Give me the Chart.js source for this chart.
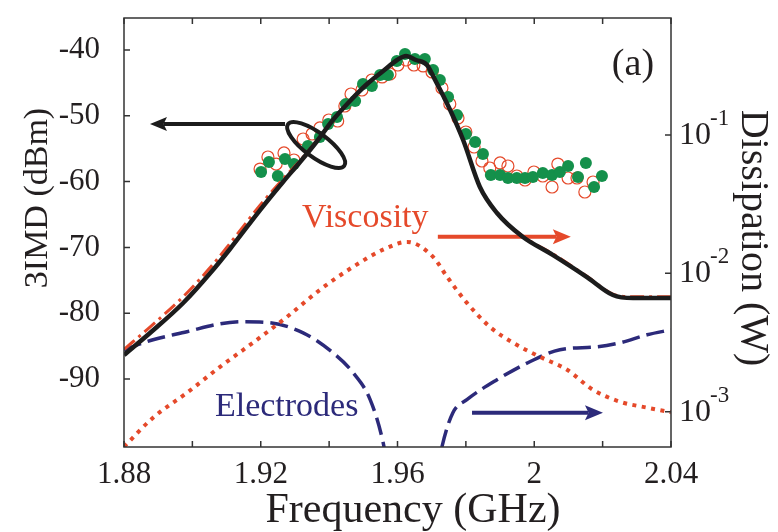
<!DOCTYPE html>
<html>
<head>
<meta charset="utf-8">
<script src="https://cdn.jsdelivr.net/npm/chart.js@4.4.0/dist/chart.umd.min.js"></script>
<style>
  html, body { margin: 0; padding: 0; background: #fff; }
  #wrap { width: 778px; height: 532px; }
</style>
</head>
<body>
<div id="wrap"><canvas id="chart" width="778" height="532"></canvas></div>
<script>
// axis ticks
const freqTicks = [1.88, 1.90, 1.92, 1.94, 1.96, 1.98, 2.00, 2.02, 2.04];
const freqTickLabels = ['1.88', '', '1.92', '', '1.96', '', '2', '', '2.04'];
const imdTicks = [-90, -80, -70, -60, -50, -40];
const dissTicks = [1e-3, 1e-2, 1e-1];
const dissTickExp = ['-3', '-2', '-1'];

// simulated 3IMD (black solid) and second simulation (red dash-dot)
const freqSim = [1.88, 1.8876, 1.8973, 1.906, 1.911, 1.9198, 1.9265, 1.9315, 1.9365, 1.9411, 1.9461,
  1.9511, 1.9558, 1.9599, 1.9625, 1.9654, 1.9686, 1.971, 1.9754, 1.9792, 1.9841, 1.9891, 1.9967,
  2.0055, 2.0154, 2.023, 2.0289, 2.04];
const imdSim = [-86.35, -83.01, -78.45, -73.43, -70.24, -64.32, -60.06, -57.02, -53.83, -50.64, -47.75,
  -45.17, -43.19, -41.52, -40.91, -41.52, -42.28, -44.56, -49.12, -53.68, -60.82, -64.77, -68.42,
  -71.16, -74.5, -77.23, -77.69, -77.69];
const imdSimAlt = [-85.5, -82.1, -77.5, -72.6, -69.4, -63.6, -59.6, -56.8, -53.7, -50.6, -47.7,
  -45.1, -43.2, -41.5, -40.9, -41.5, -42.3, -44.6, -49.1, -53.7, -60.8, -64.7, -68.3,
  -71.0, -74.4, -77.1, -77.5, -77.5];

// measured 3IMD (green filled, red open)
const freqMeasA = [1.9201, 1.9224, 1.925, 1.9271, 1.9297, 1.9338, 1.9373, 1.9397, 1.9423, 1.9449,
  1.9476, 1.9499, 1.9525, 1.9549, 1.9572, 1.9598, 1.9622, 1.9651, 1.968, 1.9704, 1.9724, 1.9748,
  1.9774, 1.98, 1.9827, 1.985, 1.9873, 1.99, 1.9923, 1.9949, 1.9973, 1.9996, 2.0025, 2.0052,
  2.0075, 2.0099, 2.0128, 2.0151, 2.0175, 2.0198];
const imdMeasA = [-58.54, -57.02, -59.15, -56.57, -57.33, -54.59, -53.22, -51.25, -50.18, -48.21,
  -47.75, -45.17, -45.47, -43.8, -43.8, -41.67, -40.61, -41.37, -41.37, -43.04, -44.56, -47.14,
  -49.88, -52.77, -53.98, -55.81, -59.0, -59.0, -59.45, -59.45, -59.45, -59.3, -58.69, -59.0,
  -58.54, -57.63, -59.3, -57.17, -60.82, -59.15];
const freqMeasB = [1.9198, 1.9221, 1.9245, 1.9268, 1.9297, 1.9324, 1.935, 1.9373, 1.9399, 1.9425,
  1.9446, 1.9464, 1.9496, 1.9525, 1.9555, 1.9578, 1.9601, 1.9625, 1.9648, 1.9675, 1.9701, 1.973,
  1.9753, 1.9777, 1.98, 1.9824, 1.9847, 1.987, 1.99, 1.9923, 1.9949, 1.9973, 1.9999, 2.0025,
  2.0052, 2.0069, 2.0099, 2.0125, 2.0148, 2.0172];
const imdMeasB = [-58.09, -56.26, -57.33, -55.65, -56.72, -53.53, -52.77, -51.85, -50.64, -50.79,
  -48.51, -46.69, -46.08, -44.56, -44.1, -43.65, -42.28, -41.52, -42.28, -42.43, -43.34, -45.78,
  -48.21, -50.33, -52.46, -54.74, -56.87, -57.93, -57.17, -57.63, -59.15, -59.76, -58.54, -59.15,
  -60.82, -57.33, -59.45, -59.45, -61.58, -60.06];

// dissipation (W): viscosity (red dotted) and electrodes (navy dashed)
const freqVisc = [1.88, 1.8885, 1.8984, 1.9081, 1.9177, 1.9277, 1.9373, 1.947, 1.9563, 1.9628,
  1.9704, 1.9745, 1.9803, 1.987, 1.9938, 2.0017, 2.0096, 2.0172, 2.0251, 2.033, 2.04];
const dissVisc = [5.58e-4, 9.06e-4, 1.37e-3, 2.11e-3, 3.15e-3, 4.85e-3, 7.6e-3, 1.114e-2, 1.503e-2,
  1.687e-2, 1.315e-2, 9.44e-3, 6.12e-3, 4.11e-3, 3.15e-3, 2.49e-3, 2.01e-3, 1.44e-3, 1.18e-3,
  1.07e-3, 9.9e-4];
const freqElec = [1.88, 1.8885, 1.8984, 1.9081, 1.9148, 1.9227, 1.9324, 1.9411, 1.947, 1.952,
  1.9558, 1.9584, 1.9645, 1.9704, 1.973, 1.9762, 1.9803, 1.9891, 1.9987, 2.0075, 2.0183, 2.0251,
  2.033, 2.04];
const dissElec = [2.805e-3, 3.311e-3, 3.784e-3, 4.315e-3, 4.467e-3, 4.395e-3, 3.715e-3, 2.667e-3,
  1.914e-3, 1.222e-3, 5.97e-4, 2.51e-4, 6.3e-5, 2.51e-4, 5.58e-4, 9.84e-4, 1.222e-3, 1.702e-3,
  2.296e-3, 2.805e-3, 2.944e-3, 3.148e-3, 3.597e-3, 3.908e-3];

const RED = '#e5492a';
const NAVY = '#2c2a7a';
const GREEN = '#14904b';
const INK = '#231f20';
const SERIF = '"Liberation Serif", "Times New Roman", serif';

Chart.defaults.font.family = SERIF;

function pts(xs, ys) {
  return xs.map((x, i) => ({ x: x, y: ys[i] }));
}

function arrow(ctx, x0, y0, x1, y1, color, lw, hl, hw) {
  const dir = Math.sign(x1 - x0);
  ctx.strokeStyle = color;
  ctx.fillStyle = color;
  ctx.lineWidth = lw;
  ctx.beginPath();
  ctx.moveTo(x0, y0);
  ctx.lineTo(x1 - dir * hl * 0.8, y1);
  ctx.stroke();
  ctx.beginPath();
  ctx.moveTo(x1, y1);
  ctx.lineTo(x1 - dir * hl, y1 - hw);
  ctx.lineTo(x1 - dir * hl * 0.8, y1);
  ctx.lineTo(x1 - dir * hl, y1 + hw);
  ctx.closePath();
  ctx.fill();
}

// no automatic label padding: the plot box is fixed
function fixV(w) {
  return s => { s.width = w; s.paddingTop = 0; s.paddingBottom = 0; };
}

// arrows + labels under the curves
const notes = {
  id: 'notes',
  beforeDatasetsDraw(chart) {
    const { ctx, scales } = chart;
    const x = scales.x, yl = scales.y, yr = scales.y2;
    ctx.save();
    arrow(ctx, x.getPixelForValue(1.9271), yl.getPixelForValue(-51.25),
      x.getPixelForValue(1.8876), yl.getPixelForValue(-51.25), '#1c1c1c', 4, 17, 7);
    arrow(ctx, x.getPixelForValue(1.9718), yr.getPixelForValue(0.0184),
      x.getPixelForValue(2.0107), yr.getPixelForValue(0.0184), RED, 4, 18, 7.5);
    arrow(ctx, x.getPixelForValue(1.9818), yr.getPixelForValue(9.84e-4),
      x.getPixelForValue(2.0201), yr.getPixelForValue(9.84e-4), NAVY, 4, 18, 7.5);

    ctx.textBaseline = 'alphabetic';
    ctx.textAlign = 'left';
    ctx.font = '34px ' + SERIF;
    ctx.fillStyle = RED;
    ctx.fillText('Viscosity', x.getPixelForValue(1.9321), yr.getPixelForValue(0.0217));
    ctx.fillStyle = NAVY;
    ctx.fillText('Electrodes', x.getPixelForValue(1.9066), yr.getPixelForValue(9.35e-4));
    ctx.fillStyle = INK;
    ctx.font = '38px ' + SERIF;
    ctx.fillText('(a)', x.getPixelForValue(2.0227), yl.getPixelForValue(-43.8));
    ctx.restore();
  },
  afterDatasetsDraw(chart) {
    const { ctx, scales } = chart;
    ctx.save();
    ctx.strokeStyle = '#1c1c1c';
    ctx.lineWidth = 4;
    ctx.beginPath();
    ctx.ellipse(scales.x.getPixelForValue(1.9362), scales.y.getPixelForValue(-54.44),
      35, 12, 36.6 * Math.PI / 180, 0, Math.PI * 2);
    ctx.stroke();
    ctx.restore();
  }
};

// frame, inward ticks, log labels, axis titles
const frame = {
  id: 'frame',
  afterDraw(chart) {
    const { ctx, chartArea: a, scales } = chart;
    const x = scales.x, yl = scales.y, yr = scales.y2;
    ctx.save();
    ctx.strokeStyle = '#333';
    ctx.lineWidth = 1.5;
    ctx.strokeRect(a.left, a.top, a.right - a.left, a.bottom - a.top);
    ctx.beginPath();
    x.ticks.forEach(t => {
      const px = x.getPixelForValue(t.value);
      ctx.moveTo(px, a.bottom); ctx.lineTo(px, a.bottom - 6);
      ctx.moveTo(px, a.top); ctx.lineTo(px, a.top + 6);
    });
    yl.ticks.forEach(t => {
      const py = yl.getPixelForValue(t.value);
      ctx.moveTo(a.left, py); ctx.lineTo(a.left + 6, py);
    });
    yr.ticks.forEach(t => {
      const py = yr.getPixelForValue(t.value);
      ctx.moveTo(a.right, py); ctx.lineTo(a.right - 6, py);
    });
    ctx.stroke();

    ctx.fillStyle = INK;
    ctx.textAlign = 'left';
    ctx.textBaseline = 'alphabetic';
    dissTicks.forEach((v, i) => {
      const py = yr.getPixelForValue(v);
      ctx.font = '32px ' + SERIF;
      const lx = a.right + 8;
      ctx.fillText('10', lx, py + 9);
      const w = ctx.measureText('10').width;
      ctx.font = '23px ' + SERIF;
      ctx.fillText(dissTickExp[i], lx + w - 1, py - 10);
    });

    ctx.textAlign = 'center';
    ctx.font = '42px ' + SERIF;
    ctx.fillText('Frequency (GHz)', 413, 522);

    ctx.save();
    ctx.translate(47, 198);
    ctx.rotate(-Math.PI / 2);
    ctx.font = '34px ' + SERIF;
    ctx.fillText('3IMD (dBm)', 0, 0);
    ctx.restore();

    ctx.save();
    ctx.translate(742, 238);
    ctx.rotate(Math.PI / 2);
    ctx.font = '40px ' + SERIF;
    ctx.fillText('Dissipation (W)', 0, 0);
    ctx.restore();
    ctx.restore();
  }
};

new Chart(document.getElementById('chart'), {
  type: 'line',
  data: {
    datasets: [
      {
        data: pts(freqSim, imdSim), yAxisID: 'y',
        borderColor: '#1c1c1c', borderWidth: 4.5, pointRadius: 0,
        cubicInterpolationMode: 'monotone', fill: false
      },
      {
        data: pts(freqSim, imdSimAlt), yAxisID: 'y',
        borderColor: RED, borderWidth: 3, borderDash: [14, 5, 3, 5], pointRadius: 0,
        cubicInterpolationMode: 'monotone', fill: false
      },
      {
        data: pts(freqMeasA, imdMeasA), yAxisID: 'y', showLine: false,
        pointRadius: 6, pointBackgroundColor: GREEN, pointBorderColor: GREEN, pointBorderWidth: 0
      },
      {
        data: pts(freqMeasB, imdMeasB), yAxisID: 'y', showLine: false,
        pointRadius: 6, pointBackgroundColor: 'rgba(255,255,255,0)', pointBorderColor: RED, pointBorderWidth: 1.2
      },
      {
        data: pts(freqVisc, dissVisc), yAxisID: 'y2',
        borderColor: RED, borderWidth: 4, borderDash: [4, 5.5], borderCapStyle: 'butt', pointRadius: 0,
        cubicInterpolationMode: 'monotone', fill: false
      },
      {
        data: pts(freqElec, dissElec), yAxisID: 'y2',
        borderColor: NAVY, borderWidth: 3.5, borderDash: [18, 7], pointRadius: 0,
        cubicInterpolationMode: 'monotone', fill: false
      }
    ]
  },
  options: {
    responsive: false,
    animation: false,
    layout: { padding: { top: 18, left: 0, right: 0, bottom: 0 } },
    plugins: { legend: { display: false }, tooltip: { enabled: false } },
    scales: {
      x: {
        type: 'linear', position: 'bottom', min: 1.88, max: 2.04,
        afterBuildTicks: s => { s.ticks = freqTicks.map(v => ({ value: v })); },
        afterFit: s => { s.height = 85; s.paddingLeft = 0; s.paddingRight = 0; },
        grid: { display: false, drawTicks: false },
        border: { display: false },
        ticks: {
          autoSkip: false, maxRotation: 0, padding: 9, color: INK, font: { size: 31 },
          callback: (v, i) => freqTickLabels[i]
        }
      },
      y: {
        type: 'linear', position: 'left', min: -100.33, max: -35.14,
        afterBuildTicks: s => { s.ticks = imdTicks.map(v => ({ value: v })); },
        afterFit: fixV(124),
        grid: { display: false, drawTicks: false },
        border: { display: false },
        ticks: { autoSkip: false, padding: 24, color: INK, font: { size: 31 }, callback: v => String(v) }
      },
      y2: {
        type: 'logarithmic', position: 'right', min: 5.56e-4, max: 0.70,
        afterBuildTicks: s => { s.ticks = dissTicks.map(v => ({ value: v })); },
        afterFit: fixV(107),
        grid: { display: false, drawTicks: false },
        border: { display: false },
        ticks: { display: false }
      }
    }
  },
  plugins: [notes, frame]
});
</script>
</body>
</html>
